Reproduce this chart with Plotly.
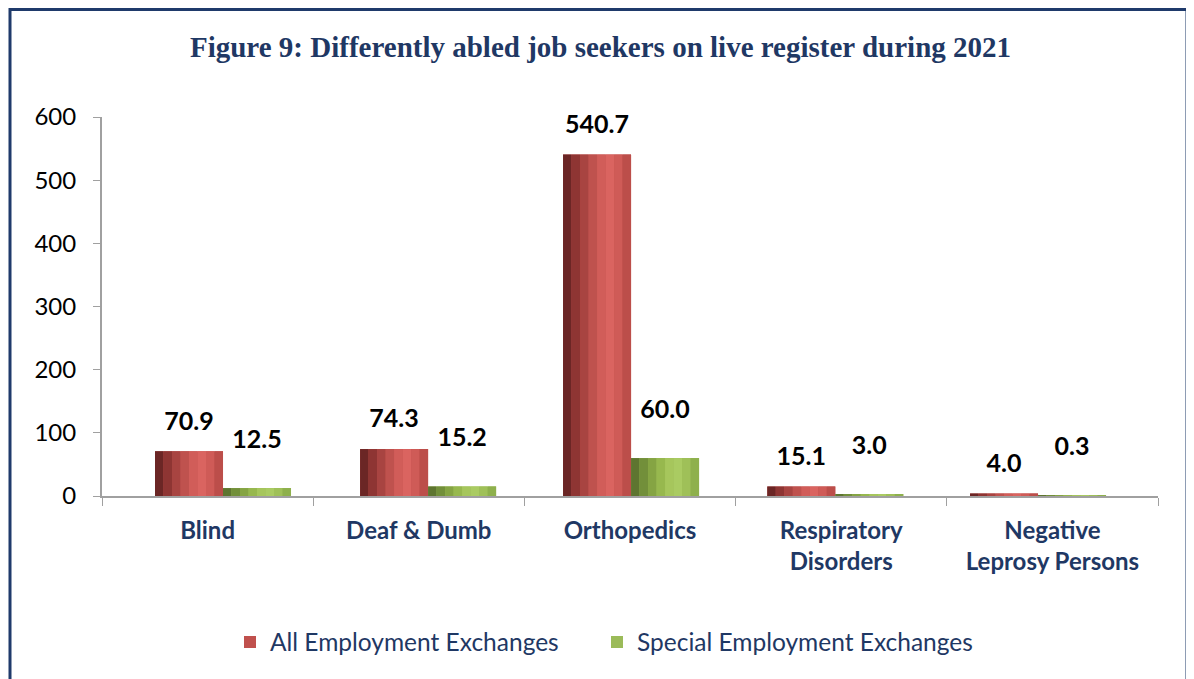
import plotly.graph_objects as go

categories = ["Blind", "Deaf & Dumb", "Orthopedics", "Respiratory<br>Disorders", "Negative<br>Leprosy Persons"]
all_exchanges = [70.9, 74.3, 540.7, 15.1, 4.0]
special_exchanges = [12.5, 15.2, 60.0, 3.0, 0.3]
y_ticks = [0, 100, 200, 300, 400, 500, 600]

# the page draws the figure 8px in from the top-left corner
W, H = 1194, 679
ml, mr, mt, mb = 94, 44, 109, 191
pw, ph = W - ml - mr, H - mt - mb

navy = "#1F3864"
body_font = "Lato, 'Open Sans', sans-serif"

# the original is a 3-D column chart: pairs drift left with perspective
bar_w = 0.322
red_offset = [-0.249, -0.278, -0.317, -0.35, -0.39]
green_offset = [o + bar_w for o in red_offset]

# vertical strips, dark left edge to a highlight right of centre, fake the cylinder shading
red_shades = ["#6B2625", "#8E3533", "#A84441", "#BF524E", "#D15D59", "#DA6460", "#CF5B57", "#BC4E4A"]
green_shades = ["#5E7530", "#728F3A", "#85A443", "#97B84E", "#A6C65C", "#AACB62", "#9FC058", "#8EB04C"]

# a blank second line lifts the value labels off the bar tops
red_tpl = "<span style='font-size:25px'>%{y:.1f}</span><br> "
green_tpl = "%{y:.1f}<br> "

fig = go.Figure()


def add_series(values, name, offsets, base_color, shades, tpl, label_size, legend):
    fig.add_trace(go.Bar(
        x=categories, y=values, name=name, legend=legend,
        width=bar_w, offset=offsets,
        marker=dict(color=base_color, line=dict(width=0)),
        texttemplate=tpl, textposition="outside",
        textfont=dict(family=body_font, size=label_size, color="black", weight="bold"),
        cliponaxis=False,
    ))
    n = len(shades)
    for i, c in enumerate(shades):
        fig.add_trace(go.Bar(
            x=categories, y=values, showlegend=False, hoverinfo="skip",
            width=bar_w / n, offset=[o + i * bar_w / n for o in offsets],
            marker=dict(color=c, line=dict(width=0)),
        ))


add_series(all_exchanges, "All Employment Exchanges", red_offset, "#C0504D", red_shades, red_tpl, 12, "legend")
add_series(special_exchanges, "Special Employment Exchanges", green_offset, "#9BBB59", green_shades, green_tpl, 25, "legend2")

# navy frame around the whole chart
fig.add_shape(
    type="rect", xref="paper", yref="paper", layer="below",
    x0=(2 - ml) / pw, x1=(1179 - ml) / pw,
    y0=(H - 720 - mb) / ph, y1=(H - 1.5 - mb) / ph,
    line=dict(color="#1F3A6B", width=3), fillcolor="rgba(0,0,0,0)",
)

legend_style = dict(
    orientation="h", xanchor="left", y=(H - 634 - mb) / ph, yanchor="middle",
    font=dict(family=body_font, size=24.5, color=navy), itemwidth=30,
)

fig.update_layout(
    width=W, height=H,
    margin=dict(l=ml, r=mr, t=mt, b=mb),
    paper_bgcolor="white", plot_bgcolor="white",
    title=dict(
        text="Figure 9: Differently abled job seekers on live register during 2021",
        x=592.5 / W, xanchor="center", y=1 - 39 / H, yanchor="middle",
        font=dict(family="'Liberation Serif', 'Times New Roman', serif", size=29, color=navy, weight="bold"),
    ),
    legend=dict(x=(222 - ml) / pw, **legend_style),
    legend2=dict(x=(589 - ml) / pw, **legend_style),
)
fig.update_xaxes(
    showline=True, linecolor="#A0A0A0", linewidth=2,
    ticks="outside", tickson="boundaries", ticklen=8, tickcolor="#A0A0A0",
    tickfont=dict(family=body_font, size=24, color=navy, weight="bold"),
    ticklabelstandoff=12,
)
fig.update_yaxes(
    range=[0, 600], tickvals=y_ticks, showgrid=False, zeroline=False,
    showline=True, linecolor="#A0A0A0", linewidth=2,
    ticks="outside", ticklen=7, tickcolor="#A0A0A0",
    tickfont=dict(family=body_font, size=24, color="black"),
    ticklabelstandoff=12,
)

fig.write_html("out.html")
